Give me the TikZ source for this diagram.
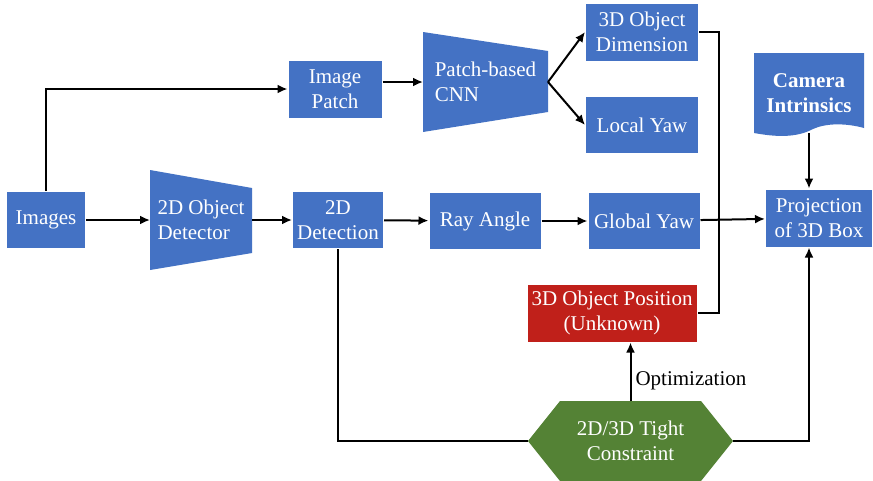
\documentclass[tikz,border=0pt]{standalone}
\usepackage{fontspec}
\setmainfont{Liberation Serif}
\usetikzlibrary{arrows.meta,calc,backgrounds}
\definecolor{boxblue}{HTML}{4472C4}
\definecolor{boxred}{HTML}{C0201A}
\definecolor{boxgreen}{HTML}{548235}

\begin{document}
\begin{tikzpicture}[
    x=1pt, y=-1pt,
    line width=2pt,
    font=\fontsize{21}{25}\selectfont,
    blockbox/.style={fill=boxblue, text=white, align=center, inner sep=2pt},
    shapebox/.style={text=white, inner sep=2pt},
    link/.style={black, line width=2pt},
    arr/.style={link, -{Latex[length=10pt,width=9pt]}}
]

    \useasboundingbox (0,0) rectangle (873,480);

    % Main row
    \node[blockbox, minimum width=78pt, minimum height=56pt] (images) at (46,220) {Images};
    \node[shapebox, align=left, minimum width=100pt, minimum height=98pt] (det) at (201,220) {2D Object\\Detector};
    \node[blockbox, minimum width=90pt, minimum height=56pt] (det2d) at (338,220) {2D\\Detection};
    \node[blockbox, minimum width=111pt, minimum height=56pt] (ray) at (485,221) {Ray Angle};
    \node[blockbox, minimum width=111pt, minimum height=56pt] (gyaw) at (644,221) {Global Yaw};
    \node[blockbox, minimum width=106pt, minimum height=57pt] (proj) at (819,218) {Projection\\of 3D Box};

    % Patch branch
    \node[blockbox, minimum width=93pt, minimum height=57pt] (patch) at (335,89) {Image\\Patch};
    \node[shapebox, align=left, minimum width=123pt, minimum height=98pt] (cnn) at (485.5,82) {Patch-based\\CNN};
    \node[blockbox, minimum width=112pt, minimum height=57pt] (dim) at (642,32) {3D Object\\Dimension};
    \node[blockbox, minimum width=112pt, minimum height=56pt] (lyaw) at (642,125) {Local Yaw};

    % Camera intrinsics (document shape)
    \node[shapebox, align=center, font=\fontsize{21}{25}\selectfont\bfseries, minimum width=108pt, minimum height=78pt] (cam) at (809,93) {Camera\\Intrinsics};

    % Unknown position and constraint
    \node[blockbox, fill=boxred, minimum width=169pt, minimum height=57pt] (pos) at (612,313) {3D Object Position\\(Unknown)};
    \node[shapebox, align=center, minimum width=203pt, minimum height=78pt] (hex) at (630.5,441) {2D/3D Tight\\Constraint};

    % Canvas and filled outlines behind the texts
    \begin{scope}[on background layer]
        \fill[white] (0,0) rectangle (873,480);
        \fill[boxblue] (det.north west) -- ($(det.north east)+(0,18)$) -- ($(det.south east)+(0,-17)$) -- (det.south west) -- cycle;
        \fill[boxblue] (cnn.north west) -- ($(cnn.north east)+(0,19)$) -- ($(cnn.south east)+(0,-20)$) -- (cnn.south west) -- cycle;
        \fill[boxblue] (cam.north west) -- (cam.north east) -- ($(cam.south east)+(0,-5)$)
            .. controls ($(cam.south east)+(-18,-10)$) and ($(cam.south east)+(-38,-10)$) .. ($(cam.south east)+(-51,-4)$)
            .. controls ($(cam.south east)+(-68,5)$) and ($(cam.south east)+(-88,4)$) .. (cam.south west) -- cycle;
        \fill[boxgreen] (hex.west) -- ($(hex.north west)+(32,0)$) -- ($(hex.north east)+(-32,0)$) -- (hex.east)
            -- ($(hex.south east)+(-32,0)$) -- ($(hex.south west)+(32,0)$) -- cycle;
    \end{scope}

    % Connectors
    \foreach \a/\b in {images/det, det/det2d, det2d/ray, ray/gyaw, gyaw/proj} {
        \draw[arr] (\a) -- (\b);
    }
    \draw[arr] (images.north) |- (patch.west);
    \draw[arr] (patch.east |- cnn.west) -- (cnn.west);
    \draw[arr] (cnn.east) -- (dim.west);
    \draw[arr] (cnn.east) -- (lyaw.west);
    \draw[link] (dim.east) -- ++(20,0) |- (pos.east);
    \draw[arr] (cam.south) -- (cam.south |- proj.north);
    \draw[link] (det2d.south) |- (hex.west);
    \draw[arr] (hex.east) -| (cam.south |- proj.south);
    \draw[arr] (hex.north) -- (hex.north |- pos.south) node[pos=0.35, right, inner sep=4pt] (optlabel) {Optimization};

\end{tikzpicture}
\end{document}
